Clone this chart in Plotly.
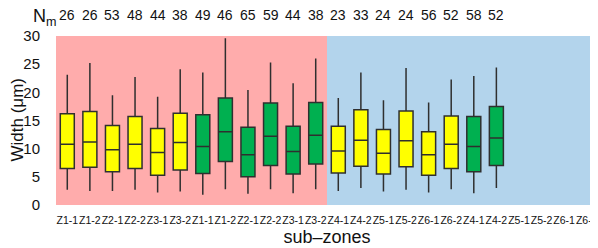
import plotly.graph_objects as go

labels = ["Z1-1", "Z1-2", "Z2-1", "Z2-2", "Z3-1", "Z3-2",
          "Z1-1", "Z1-2", "Z2-1", "Z2-2", "Z3-1", "Z3-2",
          "Z4-1", "Z4-2", "Z5-1", "Z5-2", "Z6-1", "Z6-2",
          "Z4-1", "Z4-2", "Z5-1", "Z5-2", "Z6-1", "Z6-2"]
n_counts = [26, 26, 53, 48, 44, 38, 49, 46, 65, 59, 44, 38,
            23, 33, 24, 24, 56, 52, 58, 52]
groups = ["Y", "Y", "Y", "Y", "Y", "Y", "G", "G", "G", "G", "G", "G",
          "Y", "Y", "Y", "Y", "Y", "Y", "G", "G"]
lower = [2.7, 2.5, 2.5, 2.7, 2.2, 2.4, 1.8, 2.8, 2.0, 2.8, 2.1, 2.8,
         2.5, 3.0, 2.4, 2.7, 2.2, 2.8, 2.1, 3.0]
q1 = [6.5, 6.7, 5.9, 6.5, 5.3, 6.2, 5.6, 7.7, 5.0, 7.0, 5.5, 7.3,
      5.7, 6.9, 5.5, 6.8, 5.3, 6.5, 5.9, 7.0]
median = [10.8, 11.2, 9.8, 10.8, 9.3, 11.1, 10.4, 13.0, 8.9, 12.2, 9.5, 12.4,
          9.6, 11.5, 9.2, 11.4, 8.9, 10.8, 10.4, 11.9]
q3 = [16.2, 16.6, 14.1, 15.7, 13.6, 16.3, 16.0, 19.0, 13.8, 18.1, 14.0, 18.2,
      14.0, 16.9, 13.4, 16.7, 13.0, 15.8, 15.7, 17.5]
upper = [23.1, 25.2, 19.5, 22.7, 19.2, 24.1, 23.5, 29.6, 20.4, 25.3, 21.6, 26.0,
         19.0, 23.5, 18.6, 24.3, 18.2, 22.3, 22.9, 24.4]

FONT = "Liberation Sans, Arial, sans-serif"
colors = {"Y": "#FFFF00", "G": "#00B050"}

fig = go.Figure()
for g in ["Y", "G"]:
    idx = [i for i, v in enumerate(groups) if v == g]
    fig.add_trace(go.Box(
        x=idx,
        q1=[q1[i] for i in idx],
        median=[median[i] for i in idx],
        q3=[q3[i] for i in idx],
        lowerfence=[lower[i] for i in idx],
        upperfence=[upper[i] for i in idx],
        fillcolor=colors[g],
        line=dict(color="#2f2f2f", width=1.5),
        whiskerwidth=0,
        width=0.62,
        boxpoints=False,
        hoverinfo="skip",
        showlegend=False,
    ))

n_cat = len(labels)
fig.add_shape(type="rect", xref="x", yref="paper", x0=-0.5, x1=11.5, y0=0, y1=1,
              fillcolor="#FFACAC", line=dict(width=0), layer="below")
fig.add_shape(type="rect", xref="x", yref="paper", x0=11.5, x1=n_cat - 0.5, y0=0, y1=1,
              fillcolor="#B3D4EC", line=dict(width=0), layer="below")

for i, n in enumerate(n_counts):
    fig.add_annotation(x=i, y=1.125, xref="x", yref="paper", text=str(n),
                       showarrow=False, font=dict(family=FONT, size=14, color="#111"),
                       xanchor="center", yanchor="middle")
fig.add_annotation(x=0, y=1.11, xref="paper", yref="paper", xshift=2,
                   text="N<sub>m</sub>", showarrow=False, borderpad=0,
                   font=dict(family=FONT, size=18, color="#111"),
                   xanchor="right", yanchor="middle")
fig.add_annotation(x=0, y=0.5, xref="paper", yref="paper", xshift=-39,
                   text="Width (μm)", textangle=-90, showarrow=False, borderpad=0,
                   font=dict(family=FONT, size=17, color="#111"),
                   xanchor="center", yanchor="middle")

fig.update_layout(
    width=590, height=240,
    margin=dict(l=48, r=0, t=28, b=43),
    paper_bgcolor="white", plot_bgcolor="white",
    font=dict(family=FONT, color="#111"),
    boxmode="overlay",
    xaxis=dict(
        range=[-0.5, n_cat - 0.5], automargin=False,
        tickmode="array", tickvals=list(range(n_cat)), ticktext=labels,
        tickangle=0, tickfont=dict(size=10.5, family=FONT),
        showgrid=False, zeroline=False, showline=False,
        ticks="outside", ticklen=5, tickcolor="rgba(0,0,0,0)",
        title=dict(text="sub–zones", font=dict(size=18, family=FONT), standoff=5),
    ),
    yaxis=dict(
        range=[0, 30], tickvals=[0, 5, 10, 15, 20, 25, 30], automargin=False,
        tickfont=dict(size=15, family=FONT),
        showgrid=False, zeroline=False, showline=False,
        ticks="outside", ticklen=12, tickcolor="rgba(0,0,0,0)",
    ),
)

fig.write_html("out.html")
